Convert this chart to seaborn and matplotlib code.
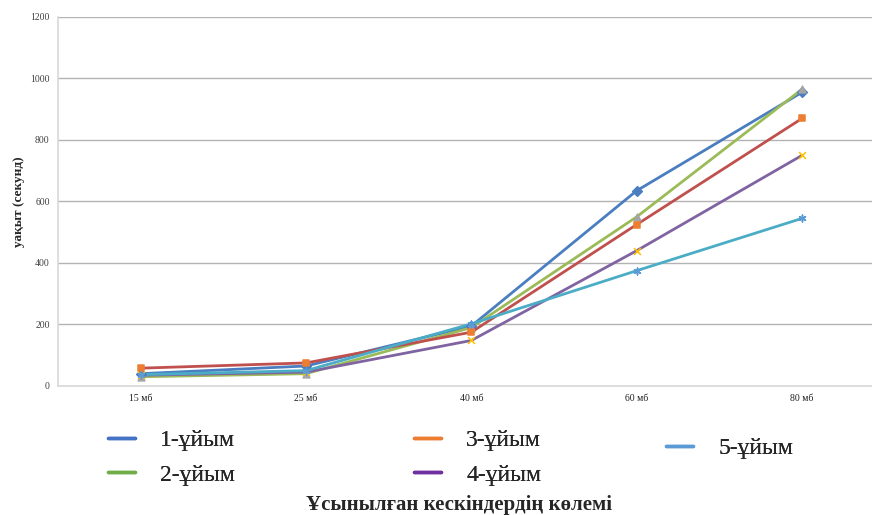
import matplotlib
matplotlib.use("Agg")
import matplotlib.pyplot as plt
from matplotlib.lines import Line2D
import seaborn as sns
import pandas as pd

sizes = ["15 мб", "25 мб", "40 мб", "60 мб", "80 мб"]
org_names = ["1-ұйым", "2-ұйым", "3-ұйым", "4-ұйым", "5-ұйым"]
org1 = [40, 65, 195, 635, 955]
org2 = [30, 40, 190, 550, 965]
org3 = [58, 75, 175, 525, 870]
org4 = [35, 45, 148, 440, 750]
org5 = [37, 50, 202, 375, 545]
y_ticks = [0, 200, 400, 600, 800, 1000, 1200]

series = [org1, org2, org3, org4, org5]
df = pd.DataFrame({
    "size": sizes * len(series),
    "pos": list(range(len(sizes))) * len(series),
    "time": [v for s in series for v in s],
    "org": [n for n in org_names for _ in sizes],
})

line_colors = ["#4a7ec0", "#9bbb59", "#c0504d", "#8064a2", "#4bacc6"]
marker_colors = ["#4a7ec0", "#a5a5a5", "#ed7d31", "#ffc000", "#5b9bd5"]
marker_shapes = ["D", "^", "s", "x", (6, 2, 0)]
legend_colors = ["#4472c4", "#70ad47", "#ed7d31", "#7030a0", "#5b9bd5"]

sns.set_theme(style="white")
plt.rcParams["font.family"] = ["Liberation Serif", "DejaVu Serif"]

fig = plt.figure(figsize=(8.72, 5.15), dpi=100)
ax = fig.add_axes([0.0665, 0.2505, 0.948, 0.7165])

sns.lineplot(data=df, x="pos", y="time", hue="org", palette=line_colors,
             linewidth=2, legend=False, ax=ax, zorder=3)
for name, mc, ms in zip(org_names, marker_colors, marker_shapes):
    sub = df[df["org"] == name]
    ax.scatter(sub["pos"], sub["time"], marker=ms, s=24, color=mc,
               linewidths=1.1, zorder=4)

ax.set_xlim(-0.5, len(sizes) - 0.5)
ax.set_ylim(0, 1200)
ax.set_yticks(y_ticks)
ax.set_yticklabels([str(t) for t in y_ticks], fontsize=7, color="#404040")
ax.set_xticks(range(len(sizes)))
ax.set_xticklabels(sizes, fontsize=7, color="#202020")
ax.tick_params(axis="both", length=0, pad=6)
ax.yaxis.grid(True, color="#b3b3b3", linewidth=1)
ax.set_axisbelow(True)
for side in ["top", "right"]:
    ax.spines[side].set_visible(False)
ax.spines["left"].set_color("#d9d9d9")
ax.spines["bottom"].set_color("#d9d9d9")
ax.set_xlabel("")
ax.set_ylabel("уақыт (секунд)", fontsize=9.5, fontweight="bold", labelpad=4)

fig.text(0.526, 0.0, "Ұсынылған кескіндердің көлемі", ha="center",
         va="bottom", fontsize=15, fontweight="bold")

handles = [Line2D([0], [0], color=c, linewidth=2.5) for c in legend_colors]
groups = [([0, 1], 0.124, 0.166), ([2, 3], 0.475, 0.166), ([4], 0.764, 0.150)]
for idx, x0, y0 in groups:
    leg = fig.legend([handles[i] for i in idx], [org_names[i] for i in idx],
                     loc="upper left", bbox_to_anchor=(x0, y0),
                     frameon=False, fontsize=17, handlelength=1.15,
                     handletextpad=1.05, labelspacing=0.55, borderpad=0,
                     borderaxespad=0)
    fig.add_artist(leg)

fig.savefig("out.png", dpi=100)
